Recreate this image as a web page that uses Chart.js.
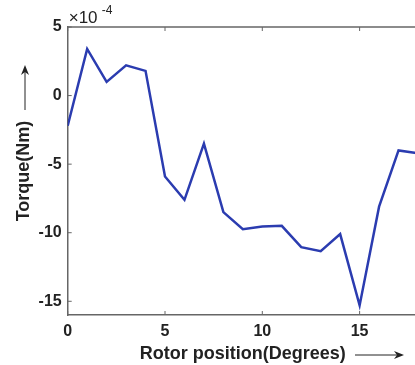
<!DOCTYPE html>
<html>
<head>
<meta charset="utf-8">
<script src="https://cdn.jsdelivr.net/npm/chart.js@4.4.1/dist/chart.umd.min.js"></script>
<style>
  html, body { margin: 0; padding: 0; background: #fff; overflow: hidden; }
  #wrap { width: 415px; height: 365px; overflow: hidden; }
</style>
</head>
<body>
<div id="wrap"><canvas id="torqueChart" width="420" height="365"></canvas></div>
<script>
// Rotor position in degrees
const positions = [0, 1, 2, 3, 4, 5, 6, 7, 8, 9, 10, 11, 12, 13, 14, 15, 16, 17, 18];
// Torque, in units of 1e-4 Nm
const torque = [-2.2, 3.4, 1.0, 2.2, 1.8, -5.9, -7.6, -3.5, -8.5, -9.75, -9.55, -9.5, -11.05, -11.35, -10.1, -15.3, -8.1, -4.0, -4.2];
const xTicks = [0, 5, 10, 15];
const yTicks = [-15, -10, -5, 0, 5];

const axisColor = '#666';
const fontFamily = 'Liberation Sans, Arial, sans-serif';
const tickFont = { family: fontFamily, size: 16, weight: 'bold' };
const titleFont = { family: fontFamily, size: 18, weight: 'bold' };

// Box edges, inner tick marks, arrows and the exponent label
const decorations = {
    id: 'decorations',
    afterDraw(chart) {
        const ctx = chart.ctx;
        const area = chart.chartArea;
        const xs = chart.scales.x;
        const ys = chart.scales.y;
        ctx.save();
        ctx.strokeStyle = axisColor;
        ctx.lineWidth = 1.5;
        // top edge
        ctx.beginPath();
        ctx.moveTo(area.left, area.top);
        ctx.lineTo(area.right + 5, area.top);
        ctx.stroke();
        // inner ticks
        ctx.lineWidth = 1;
        xTicks.forEach(v => {
            const px = xs.getPixelForValue(v);
            ctx.beginPath();
            ctx.moveTo(px, area.bottom);
            ctx.lineTo(px, area.bottom - 4);
            ctx.moveTo(px, area.top);
            ctx.lineTo(px, area.top + 4);
            ctx.stroke();
        });
        yTicks.forEach(v => {
            const py = ys.getPixelForValue(v);
            ctx.beginPath();
            ctx.moveTo(area.left, py);
            ctx.lineTo(area.left + 4, py);
            ctx.stroke();
        });

        // exponent label
        ctx.fillStyle = '#222';
        ctx.textBaseline = 'alphabetic';
        ctx.textAlign = 'left';
        ctx.font = '17px ' + fontFamily;
        ctx.fillText('\u00d710', area.left + 1, 23);
        ctx.font = '12px ' + fontFamily;
        ctx.fillText('-4', area.left + 34, 14);

        // arrows
        ctx.strokeStyle = '#222';
        ctx.fillStyle = '#222';
        ctx.lineWidth = 1;
        // y arrow (upwards)
        ctx.beginPath();
        ctx.moveTo(25, 110);
        ctx.lineTo(25, 70);
        ctx.stroke();
        ctx.beginPath();
        ctx.moveTo(25, 65);
        ctx.lineTo(21, 75);
        ctx.lineTo(25, 72);
        ctx.lineTo(29, 75);
        ctx.closePath();
        ctx.fill();
        // x arrow (rightwards)
        ctx.beginPath();
        ctx.moveTo(355, 355);
        ctx.lineTo(398, 355);
        ctx.stroke();
        ctx.beginPath();
        ctx.moveTo(404, 355);
        ctx.lineTo(394, 351);
        ctx.lineTo(397, 355);
        ctx.lineTo(394, 359);
        ctx.closePath();
        ctx.fill();
        ctx.restore();
    }
};

new Chart(document.getElementById('torqueChart').getContext('2d'), {
    type: 'line',
    data: {
        datasets: [{
            data: positions.map((p, i) => ({ x: p, y: torque[i] })),
            borderColor: '#2b3cb0',
            borderWidth: 2.5,
            pointRadius: 0,
            tension: 0,
            fill: false
        }]
    },
    options: {
        responsive: false,
        animation: false,
        layout: { padding: { top: 27, right: 2, left: 0, bottom: 0 } },
        plugins: {
            legend: { display: false },
            tooltip: { enabled: false }
        },
        scales: {
            x: {
                type: 'linear',
                min: 0,
                max: 18,
                afterBuildTicks: s => { s.ticks = xTicks.map(v => ({ value: v })); },
                afterFit: s => { s.height = 50; },
                grid: { display: false, drawTicks: false },
                border: { display: true, color: axisColor, width: 1.5 },
                ticks: { color: '#222', font: tickFont, padding: 7, maxRotation: 0 },
                title: {
                    display: true,
                    text: 'Rotor position(Degrees)',
                    color: '#222',
                    font: titleFont,
                    padding: { top: 0, bottom: 0 }
                }
            },
            y: {
                min: -16,
                max: 5,
                afterBuildTicks: s => { s.ticks = yTicks.map(v => ({ value: v })); },
                afterFit: s => { s.width = 67.7; },
                grid: { display: false, drawTicks: false },
                border: { display: true, color: axisColor, width: 1.5 },
                ticks: { color: '#222', font: tickFont, padding: 6 },
                title: {
                    display: true,
                    text: 'Torque(Nm)',
                    color: '#222',
                    font: titleFont,
                    padding: { top: 13, bottom: 0 }
                }
            }
        }
    },
    plugins: [decorations]
});
</script>
</body>
</html>
